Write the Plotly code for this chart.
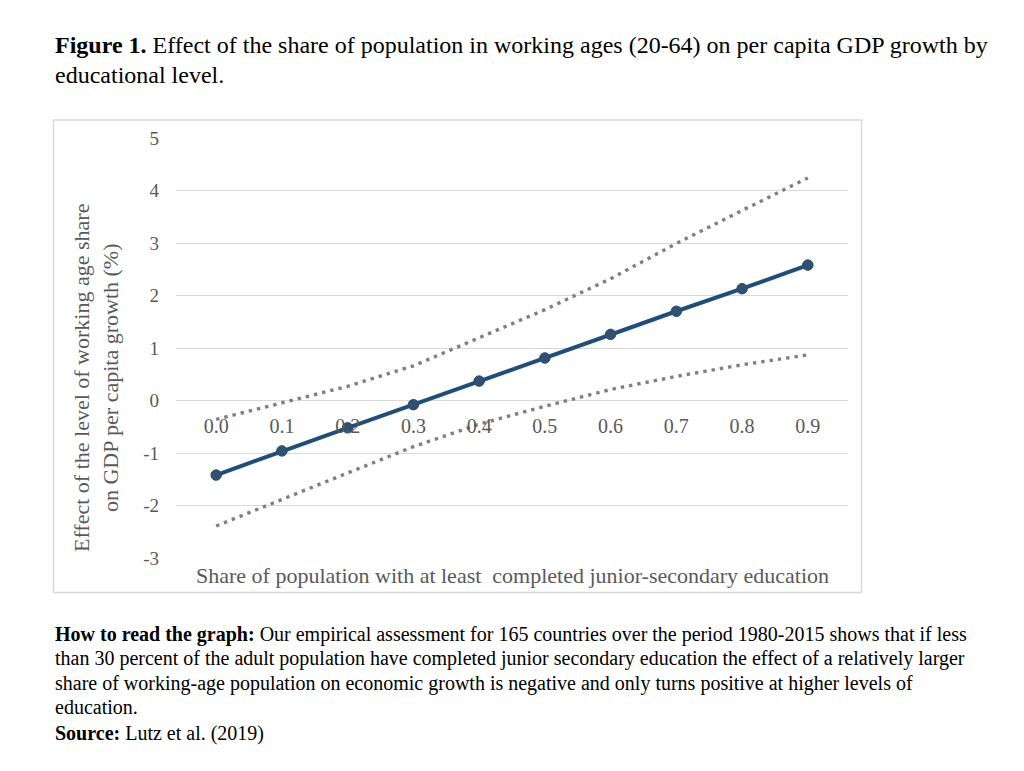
import plotly.graph_objects as go

# ---- data ----
categories = ["0.0", "0.1", "0.2", "0.3", "0.4", "0.5", "0.6", "0.7", "0.8", "0.9"]
effect = [-1.42, -0.96, -0.52, -0.08, 0.37, 0.81, 1.26, 1.70, 2.13, 2.58]
upper_bound = [-0.36, -0.05, 0.27, 0.66, 1.19, 1.73, 2.32, 2.99, 3.62, 4.24]
lower_bound = [-2.39, -1.88, -1.38, -0.88, -0.45, -0.11, 0.21, 0.46, 0.68, 0.87]
y_ticks = [-3, -2, -1, 0, 1, 2, 3, 4, 5]
y_tick_labels = ["-3", "-2", "-1", "0", "1", "2", "3", "4", "5"]

title_line1 = "<b>Figure 1.</b> Effect of the share of population in working ages (20-64) on per capita GDP growth by"
title_line2 = "educational level."
x_title = "Share of population with at least  completed junior-secondary education"
y_title = "Effect of the level of working age share<br>on GDP per capita growth (%)"
caption_lines = [
    "<b>How to read the graph:</b> Our empirical assessment for 165 countries over the period 1980-2015 shows that if less",
    "than 30 percent of the adult population have completed junior secondary education the effect of a relatively larger",
    "share of working-age population on economic growth is negative and only turns positive at higher levels of",
    "education.",
    "<b>Source:</b> Lutz et al. (2019)",
]

# ---- geometry (pixels) ----
W, H = 1024, 771
PL, PR, PT, PB = 176, 848, 138, 558


def px(x):
    return (x - PL) / (PR - PL)


def py(y):
    return (PB - y) / (PB - PT)


SERIF = "Liberation Serif, Times New Roman, serif"
GRAY_TXT = "#595959"

fig = go.Figure()
fig.add_trace(go.Scatter(
    x=categories, y=upper_bound, mode="lines",
    line=dict(color="#7f7f7f", width=3.4, dash="3.4px,5px"),
    hoverinfo="skip", showlegend=False))
fig.add_trace(go.Scatter(
    x=categories, y=lower_bound, mode="lines",
    line=dict(color="#7f7f7f", width=3.4, dash="3.4px,5px"),
    hoverinfo="skip", showlegend=False))
fig.add_trace(go.Scatter(
    x=categories, y=effect, mode="lines+markers",
    line=dict(color="#1f4e79", width=4),
    marker=dict(size=10.5, color="#33506f", line=dict(color="#1f4e79", width=1)),
    showlegend=False))

annotations = []
annotations.append(dict(text=title_line1, x=px(53), y=py(45), xref="paper", yref="paper",
                        xanchor="left", yanchor="middle", showarrow=False,
                        font=dict(family=SERIF, size=24, color="#000000")))
annotations.append(dict(text=title_line2, x=px(53), y=py(75), xref="paper", yref="paper",
                        xanchor="left", yanchor="middle", showarrow=False,
                        font=dict(family=SERIF, size=24, color="#000000")))
annotations.append(dict(text=x_title, x=px(512.5), y=py(575), xref="paper", yref="paper",
                        xanchor="center", yanchor="middle", showarrow=False,
                        font=dict(family=SERIF, size=22, color=GRAY_TXT)))
annotations.append(dict(text=y_title, x=px(96), y=py(378), xref="paper", yref="paper",
                        xanchor="center", yanchor="middle", showarrow=False, textangle=-90,
                        font=dict(family=SERIF, size=22, color=GRAY_TXT)))
cap_y = [634, 658, 683, 707, 733]
for line, yy in zip(caption_lines, cap_y):
    annotations.append(dict(text=line, x=px(53), y=py(yy), xref="paper", yref="paper",
                            xanchor="left", yanchor="middle", showarrow=False,
                            font=dict(family=SERIF, size=20, color="#000000")))

fig.update_layout(
    width=W, height=H,
    margin=dict(l=PL, r=W - PR, t=PT, b=H - PB, pad=0),
    paper_bgcolor="#ffffff", plot_bgcolor="#ffffff",
    font=dict(family=SERIF, color=GRAY_TXT),
    annotations=annotations,
    shapes=[dict(type="rect", xref="paper", yref="paper",
                 x0=px(53.5), x1=px(861.5), y0=py(592.5), y1=py(120),
                 line=dict(color="#d9d9d9", width=1.5), layer="below")],
    xaxis=dict(type="category", anchor="free", position=3 / 8,
               showgrid=False, showline=False, zeroline=False, ticks="",
               tickfont=dict(family=SERIF, size=20, color=GRAY_TXT),
               ticklabelstandoff=11, fixedrange=True),
    yaxis=dict(range=[-3, 5], tickvals=y_ticks, ticktext=y_tick_labels, showgrid=True,
               gridcolor="#d9d9d9", gridwidth=1.3, zeroline=False,
               showline=False, ticks="",
               tickfont=dict(family=SERIF, size=19, color=GRAY_TXT),
               ticklabelstandoff=16, fixedrange=True),
)

fig.write_html("out.html", config={"displayModeBar": False},
               post_script="document.body.style.margin='0';document.body.style.overflow='hidden';")
